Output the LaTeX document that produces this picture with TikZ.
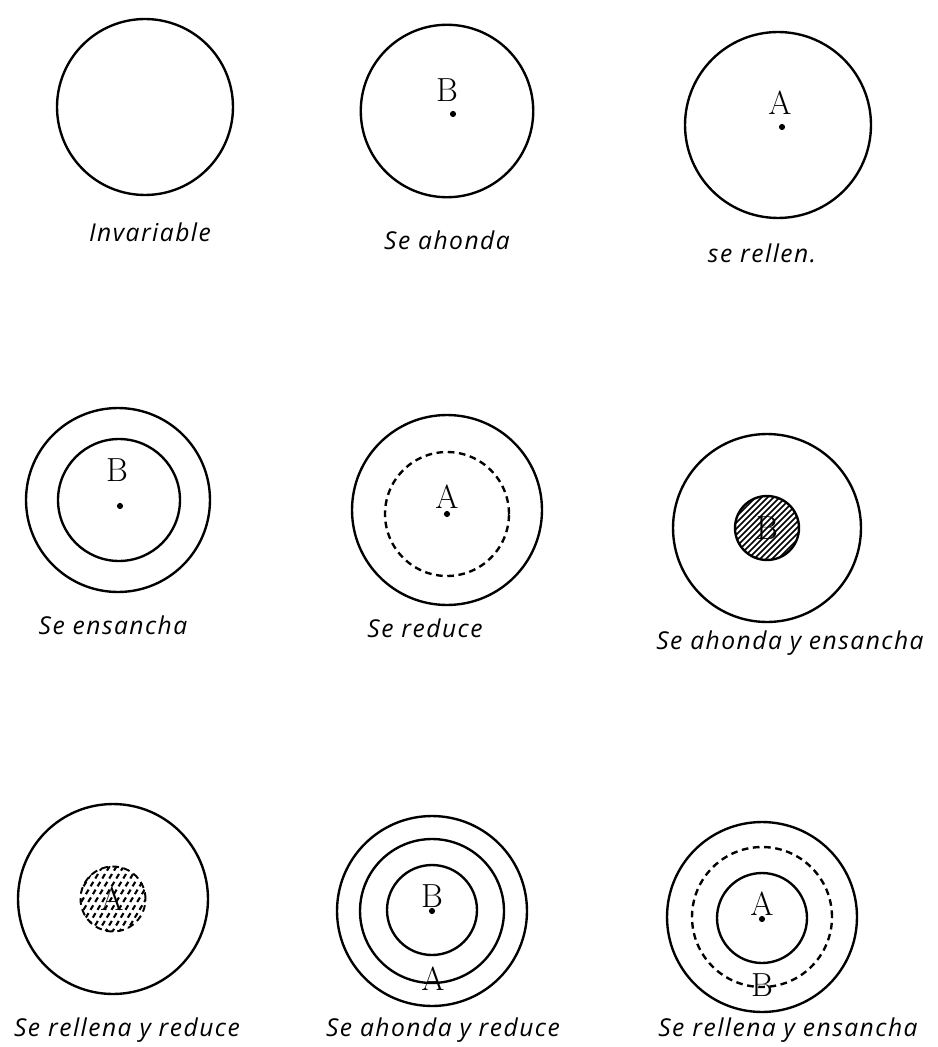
\documentclass[tikz,border=0pt]{standalone}
\usepackage{fontspec}
\newfontfamily\handfont[LetterSpace=6]{Open Sans}
\usetikzlibrary{positioning}
\tikzset{
  ring/.style={draw,circle,line width=1.35pt,inner sep=0pt},
  dashring/.style={ring,dash pattern=on 3.8pt off 2.6pt},
  pit/.style={fill,circle,inner sep=0pt,minimum size=3.5pt},
  lettr/.style={font=\fontsize{19}{19}\selectfont,inner sep=0pt},
  lbl/.style={font=\handfont\itshape\fontsize{14}{17}\selectfont,inner sep=0pt},
  hatch/.style={line width=0.9pt},
  dhatch/.style={line width=1.2pt,dash pattern=on 3pt off 2.2pt},
}

\begin{document}
\begin{tikzpicture}[x=0.02cm,y=-0.02cm]
\useasboundingbox (0,0) rectangle (937,1047);

\node[ring,minimum size=3.52cm] (inv) at (145,107) {};
\node[lbl] (invL) at (150,232) {Invariable};

\node[ring,minimum size=3.45cm] (aho) at (447,111) {};
\node[lettr] (ahoB) at (447,90) {B};
\node[pit] (ahoP) at (453,114) {};
\node[lbl] (ahoL) at (447,240) {Se ahonda};

\node[ring,minimum size=3.72cm] (rel) at (778,125) {};
\node[lettr] (relA) at (780,103) {A};
\node[pit] (relP) at (782,127) {};
\node[lbl] (relL) at (762,253) {se rellen.};

\node[ring,minimum size=3.68cm] (ens) at (118,500) {};
\node[ring,minimum size=2.44cm] (ensI) at (119,500) {};
\node[lettr] (ensB) at (117,470) {B};
\node[pit] (ensP) at (120,506) {};
\node[lbl] (ensL) at (113,625) {Se ensancha};

\node[ring,minimum size=3.8cm] (red) at (447,510) {};
\node[dashring,minimum size=2.48cm] (redI) at (447,514) {};
\node[lettr] (redA) at (447,497) {A};
\node[pit] (redP) at (447,514) {};
\node[lbl] (redL) at (425,628) {Se reduce};

\node[ring,minimum size=3.76cm] (ahe) at (767,528) {};
\node[ring,minimum size=1.28cm] (sink) at (767,528) {};
\begin{scope}[shift={(sink.center)}]
  \clip (0,0) circle (32);
  \foreach \k in {-72,-66,...,72}
    \draw[hatch] (\k-40,40) -- ++(80,-80);
\end{scope}
\node[lettr] (sinkB) at (767,528) {B};
\node[lbl] (aheL) at (790,643) {Se ahonda y ensancha};

\node[ring,minimum size=3.8cm] (rre) at (113,899) {};
\begin{scope}[shift={(113,899)}]
  \clip (0,0) circle (33);
  \foreach \k in {-72,-65,...,72}
    \draw[dhatch] (\k-30,50) -- ++(60,-100);
\end{scope}
\node[dashring,line width=1.1pt,minimum size=1.3cm] (fill) at (113,899) {};
\node[lettr] (fillA) at (112,899) {A};
\node[lbl] (rreL) at (127,1030) {Se rellena y reduce};

\node[ring,minimum size=3.8cm] (ahr) at (432,911) {};
\node[ring,minimum size=2.88cm] (ahrM) at (432,911) {};
\node[ring,minimum size=1.8cm] (ahrI) at (432,910) {};
\node[lettr] (ahrB) at (432,896) {B};
\node[pit] (ahrP) at (432,911) {};
\node[lettr] (ahrA) at (433,979) {A};
\node[lbl] (ahrL) at (443,1030) {Se ahonda y reduce};

\node[ring,minimum size=3.8cm] (rens) at (762,917) {};
\node[dashring,minimum size=2.8cm] (rensM) at (762,917) {};
\node[ring,minimum size=1.8cm] (rensI) at (762,918) {};
\node[lettr] (rensA) at (762,904) {A};
\node[pit] (rensP) at (762,919) {};
\node[lettr] (rensB) at (762,985) {B};
\node[lbl] (rensL) at (788,1030) {Se rellena y ensancha};
\end{tikzpicture}
\end{document}
